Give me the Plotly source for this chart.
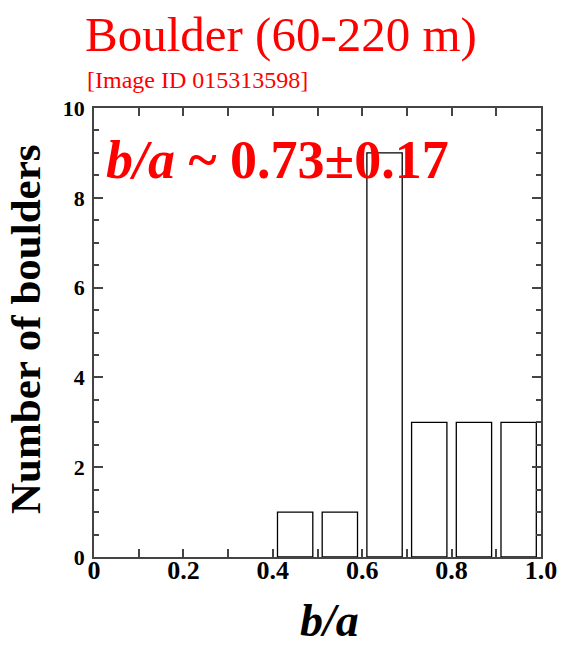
import plotly.graph_objects as go

# Data
bin_centers = [0.45, 0.55, 0.65, 0.75, 0.85, 0.95]
counts = [1, 1, 9, 3, 3, 3]
x_tickvals = [0, 0.1, 0.2, 0.3, 0.4, 0.5, 0.6, 0.7, 0.8, 0.9, 1.0]
x_ticktext = ["0", "", "0.2", "", "0.4", "", "0.6", "", "0.8", "", "1.0"]
y_tickvals = [0, 2, 4, 6, 8, 10]
y_ticktext = ["0", "2", "4", "6", "8", "10"]

title_text = "Boulder (60-220 m)"
subtitle_text = "[Image ID 015313598]"
stat_text = "<b><i>b/a</i> ~ 0.73±0.17</b>"

FONT = "Liberation Serif, Times New Roman, serif"
RED = "#ff0000"
AX = "#444444"

fig = go.Figure()
fig.add_trace(go.Bar(
    x=bin_centers, y=counts, width=0.079,
    marker=dict(color="white", line=dict(color="black", width=1.3)),
    showlegend=False,
))

W, H = 565, 646
L, R, T, B = 94, 24, 108, 89
pw, ph = W - L - R, H - T - B

def px(x):
    return (x - L) / pw

def py(y):
    return (H - B - y) / ph

fig.update_layout(
    width=W, height=H,
    margin=dict(l=L, r=R, t=T, b=B, autoexpand=False),
    paper_bgcolor="white", plot_bgcolor="white",
    font=dict(family=FONT, color="black"),
    xaxis=dict(
        range=[0, 1.0], tickvals=x_tickvals, ticktext=x_ticktext,
        ticks="inside", ticklen=8, tickwidth=1.5, tickcolor=AX,
        showline=True, linecolor=AX, linewidth=1.8, mirror="ticks",
        showgrid=False, zeroline=False,
        ticklabelstandoff=-11,
        tickfont=dict(family=FONT, size=26, weight="bold", color="black"),
    ),
    yaxis=dict(
        range=[0, 10], tickvals=y_tickvals, ticktext=y_ticktext,
        ticks="inside", ticklen=9, tickwidth=1.5, tickcolor=AX,
        minor=dict(dtick=0.5, ticks="inside", ticklen=5, tickwidth=1.5, tickcolor=AX),
        showline=True, linecolor=AX, linewidth=1.8, mirror="ticks",
        showgrid=False, zeroline=False,
        ticklabelstandoff=3,
        tickfont=dict(family=FONT, size=22, weight="bold", color="black"),
    ),
    annotations=[
        dict(text=title_text, xref="paper", yref="paper", x=px(83), y=py(34),
             xanchor="left", yanchor="middle", showarrow=False,
             font=dict(family=FONT, size=49, color=RED)),
        dict(text=subtitle_text, xref="paper", yref="paper", x=px(85), y=py(80),
             xanchor="left", yanchor="middle", showarrow=False,
             font=dict(family=FONT, size=24, color=RED)),
        dict(text=stat_text, xref="paper", yref="paper", x=px(104), y=py(160),
             xanchor="left", yanchor="middle", showarrow=False,
             font=dict(family=FONT, size=54, color=RED)),
        dict(text="<b>Number of boulders</b>", xref="paper", yref="paper",
             x=px(25), y=py(329), textangle=-90,
             xanchor="center", yanchor="middle", showarrow=False,
             font=dict(family=FONT, size=43, color="black")),
        dict(text="<b><i>b/a</i></b>", xref="paper", yref="paper",
             x=px(329), y=py(620),
             xanchor="center", yanchor="middle", showarrow=False,
             font=dict(family=FONT, size=46, color="black")),
    ],
)

fig.write_html("out.html", config={"displayModeBar": False},
               post_script="document.body.style.margin='0';document.body.style.overflow='hidden';")
